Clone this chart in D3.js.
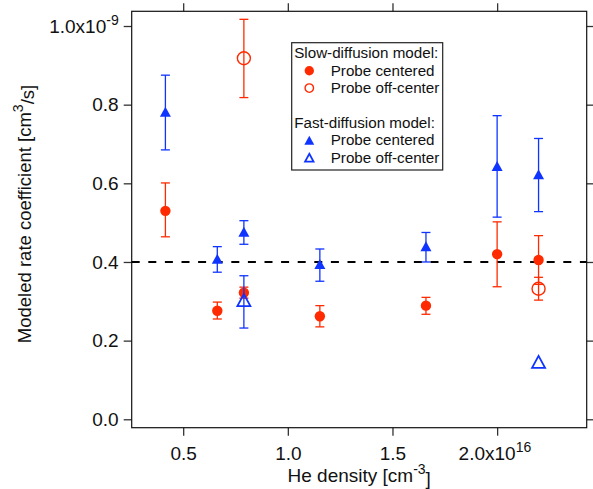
<!DOCTYPE html>
<html>
<head>
<meta charset="utf-8">
<script src="https://cdn.jsdelivr.net/npm/d3@7"></script>
<style>
  body { margin: 0; background: #fff; }
  svg { display: block; }
  text { font-family: "Liberation Sans", Arial, Helvetica, sans-serif; fill: #111; }
</style>
</head>
<body>
<div id="chart"></div>
<script>
// He density (units of 1e16 cm^-3)
const slowCenteredX = [0.415, 0.663, 0.79, 1.153, 1.66, 2.0, 2.198];
const slowCenteredY = [0.530, 0.276, 0.322, 0.262, 0.289, 0.420, 0.405];
const slowCenteredHi = [0.601, 0.298, 0.336, 0.289, 0.310, 0.502, 0.467];
const slowCenteredLo = [0.464, 0.255, 0.308, 0.235, 0.267, 0.337, 0.343];

const slowOffX = [0.79, 2.198];
const slowOffY = [0.918, 0.332];
const slowOffHi = [1.017, 0.361];
const slowOffLo = [0.818, 0.303];

const fastCenteredX = [0.415, 0.663, 0.79, 1.153, 1.66, 2.0, 2.198];
const fastCenteredY = [0.782, 0.408, 0.477, 0.395, 0.440, 0.644, 0.623];
const fastCenteredHi = [0.875, 0.439, 0.505, 0.433, 0.475, 0.772, 0.714];
const fastCenteredLo = [0.685, 0.374, 0.445, 0.351, 0.400, 0.514, 0.528];

const fastOffX = [0.79, 2.198];
const fastOffY = [0.303, 0.146];
const fastOffHi = [0.365, null];
const fastOffLo = [0.232, null];

const refLevel = 0.4;
const xTicks = [0.5, 1.0, 1.5, 2.0];
const yTicks = [0.0, 0.2, 0.4, 0.6, 0.8, 1.0];
const legendItems = [
    { label: 'Slow-diffusion model:', header: true },
    { label: 'Probe centered', series: 'slowCentered' },
    { label: 'Probe off-center', series: 'slowOff' },
    { label: '', spacer: true },
    { label: 'Fast-diffusion model:', header: true },
    { label: 'Probe centered', series: 'fastCentered' },
    { label: 'Probe off-center', series: 'fastOff' }
];

const RED = '#ff2a00';
const BLUE = '#1034ff';

const width = 593, height = 489;
const plot = { left: 131.7, right: 586.7, top: 11.3, bottom: 427.7 };

const x = d3.scaleLinear().domain([0.254, 2.428]).range([plot.left, plot.right]);
const y = d3.scaleLinear().domain([-0.0214, 1.0374]).range([plot.bottom, plot.top]);

const svg = d3.select('#chart').append('svg')
    .attr('width', width)
    .attr('height', height);

function zipSeries(xs, ys, his, los) {
    return xs.map((v, i) => ({ x: v, y: ys[i], hi: his[i], lo: los[i] }));
}

const series = {
    slowCentered: { data: zipSeries(slowCenteredX, slowCenteredY, slowCenteredHi, slowCenteredLo), color: RED, shape: 'circle', filled: true },
    slowOff: { data: zipSeries(slowOffX, slowOffY, slowOffHi, slowOffLo), color: RED, shape: 'circle', filled: false },
    fastCentered: { data: zipSeries(fastCenteredX, fastCenteredY, fastCenteredHi, fastCenteredLo), color: BLUE, shape: 'triangle', filled: true },
    fastOff: { data: zipSeries(fastOffX, fastOffY, fastOffHi, fastOffLo), color: BLUE, shape: 'triangle', filled: false }
};

// axes (mirrored on all four sides, ticks outside)
const tickLen = 8;
const axisStyle = g => {
    g.select('.domain').remove();
    g.selectAll('.tick line').attr('stroke', '#333').attr('stroke-width', 1.3);
    g.selectAll('.tick text').style('font-size', '19px').attr('fill', '#111');
};

svg.append('g')
    .attr('transform', `translate(0,${plot.bottom})`)
    .call(d3.axisBottom(x).tickValues(xTicks).tickSize(tickLen).tickPadding(11).tickFormat(d3.format('.1f')))
    .call(axisStyle)
    .call(g => {
        g.selectAll('.tick text').attr('dy', '0.71em');
        const last = g.selectAll('.tick text').filter(d => d === 2.0);
        last.text('2.0x10').attr('text-anchor', 'start').attr('x', -39)
            .append('tspan').attr('dy', '-0.6em').style('font-size', '14px').text('16');
    });

svg.append('g')
    .attr('transform', `translate(0,${plot.top})`)
    .call(d3.axisTop(x).tickValues(xTicks).tickSize(tickLen).tickFormat(''))
    .call(axisStyle);

svg.append('g')
    .attr('transform', `translate(${plot.left},0)`)
    .call(d3.axisLeft(y).tickValues(yTicks).tickSize(tickLen).tickPadding(5).tickFormat(d3.format('.1f')))
    .call(axisStyle)
    .call(g => {
        const top = g.selectAll('.tick text').filter(d => d === 1.0);
        top.text('1.0x10')
            .append('tspan').attr('dy', '-0.55em').style('font-size', '14px').text('-9');
    });

svg.append('g')
    .attr('transform', `translate(${plot.right},0)`)
    .call(d3.axisRight(y).tickValues(yTicks).tickSize(tickLen).tickFormat(''))
    .call(axisStyle);

// frame
svg.append('rect')
    .attr('x', plot.left).attr('y', plot.top)
    .attr('width', plot.right - plot.left).attr('height', plot.bottom - plot.top)
    .attr('fill', 'none').attr('stroke', '#111').attr('stroke-width', 1.2);

// axis titles
svg.append('text')
    .attr('x', (plot.left + plot.right) / 2)
    .attr('y', 482)
    .attr('text-anchor', 'middle')
    .style('font-size', '19px')
    .text('He density [cm')
    .call(t => t.append('tspan').attr('dy', '-0.6em').style('font-size', '14px').text('-3'))
    .call(t => t.append('tspan').attr('dy', '0.6em').text(']'));

svg.append('text')
    .attr('transform', 'translate(31,214) rotate(-90)')
    .attr('text-anchor', 'middle')
    .style('font-size', '18.5px')
    .text('Modeled rate coefficient [cm')
    .call(t => t.append('tspan').attr('dy', '-0.6em').style('font-size', '14px').text('3'))
    .call(t => t.append('tspan').attr('dy', '0.6em').text('/s]'));

// reference line
svg.append('line')
    .attr('x1', plot.left).attr('x2', plot.right)
    .attr('y1', y(refLevel)).attr('y2', y(refLevel))
    .attr('stroke', '#000').attr('stroke-width', 2)
    .attr('stroke-dasharray', '8,8.6');

function drawMarker(g, s, k) {
    if (s.shape === 'circle') {
        g.append('circle')
            .attr('r', (s.filled ? 5.2 : 6.5) * k)
            .attr('fill', s.filled ? s.color : 'none')
            .attr('stroke', s.color)
            .attr('stroke-width', s.filled ? 0 : 1.4);
    } else {
        const w = (s.filled ? 11 : 13) * k, h = (s.filled ? 10 : 12) * k;
        g.append('path')
            .attr('d', `M0,${-h / 2}L${w / 2},${h / 2}L${-w / 2},${h / 2}Z`)
            .attr('fill', s.filled ? s.color : 'none')
            .attr('stroke', s.color)
            .attr('stroke-width', s.filled ? 0 : 1.8);
    }
}

const cap = 4.5;
['slowCentered', 'slowOff', 'fastCentered', 'fastOff'].forEach(key => {
    const s = series[key];
    const g = svg.append('g').attr('class', key);

    // error bars
    const eb = g.selectAll('.err')
        .data(s.data.filter(d => d.hi != null))
        .join('g')
        .attr('class', 'err')
        .attr('stroke', s.color)
        .attr('stroke-width', 1.3);
    eb.append('line')
        .attr('x1', d => x(d.x)).attr('x2', d => x(d.x))
        .attr('y1', d => y(d.hi)).attr('y2', d => y(d.lo));
    eb.append('line')
        .attr('x1', d => x(d.x) - cap).attr('x2', d => x(d.x) + cap)
        .attr('y1', d => y(d.hi)).attr('y2', d => y(d.hi));
    eb.append('line')
        .attr('x1', d => x(d.x) - cap).attr('x2', d => x(d.x) + cap)
        .attr('y1', d => y(d.lo)).attr('y2', d => y(d.lo));

    // markers
    g.selectAll('.pt')
        .data(s.data)
        .join('g')
        .attr('class', 'pt')
        .attr('transform', d => `translate(${x(d.x)},${y(d.y)})`)
        .each(function () { drawMarker(d3.select(this), s, 1); });
});

// legend
const legend = svg.append('g').attr('transform', 'translate(291.7,42.7)');
legend.append('rect')
    .attr('width', 151).attr('height', 127.3)
    .attr('fill', '#fff').attr('stroke', '#222').attr('stroke-width', 1.2);

const rowH = 17.4;
legendItems.forEach((item, i) => {
    const base = 15.6 + i * rowH;
    if (item.spacer) return;
    if (item.header) {
        legend.append('text').attr('x', 2.5).attr('y', base)
            .style('font-size', '15.2px').text(item.label);
        return;
    }
    const s = series[item.series];
    const mg = legend.append('g').attr('transform', `translate(17.6,${base - 5})`);
    drawMarker(mg, s, s.filled ? 0.9 : 0.65);
    legend.append('text').attr('x', 39).attr('y', base)
        .style('font-size', '15.2px').text(item.label);
});
</script>
</body>
</html>
